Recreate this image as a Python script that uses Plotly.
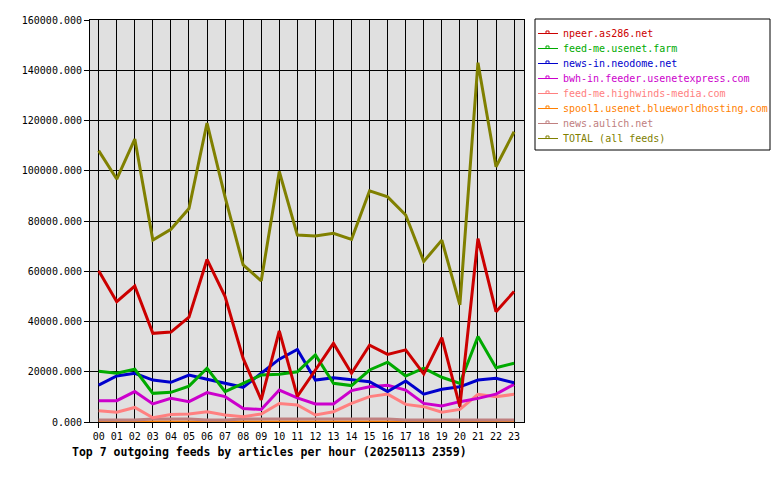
import plotly.graph_objects as go

hours = ["00","01","02","03","04","05","06","07","08","09","10","11",
         "12","13","14","15","16","17","18","19","20","21","22","23"]

npeer = [60200, 47900, 54100, 35300, 35800, 41700, 64700, 49900, 25300, 8800, 36300, 10200,
         20700, 31300, 19400, 30600, 26900, 28700, 19100, 33600, 6100, 73000, 43900, 51900]
feedme_farm = [20200, 19400, 21000, 11400, 11800, 14300, 21400, 12100, 15400, 18700, 19000, 20000,
               26700, 15400, 14500, 20700, 23800, 18300, 21400, 17800, 15400, 34000, 21600, 23400]
neodome = [14700, 18300, 19400, 16700, 15800, 18700, 17000, 15400, 13800, 19400, 25000, 28900,
           16700, 17600, 16700, 16000, 12100, 16300, 11100, 13000, 14000, 16700, 17400, 15600]
bwh = [8500, 8500, 12100, 7200, 9400, 8100, 11700, 10100, 5400, 5000, 12700, 9600,
       7200, 7200, 12500, 14000, 14600, 12700, 7400, 6400, 8100, 9400, 11100, 15000]
highwinds = [4500, 3900, 5800, 1700, 3000, 3200, 4100, 2800, 2100, 3200, 7400, 6800,
             2800, 4100, 7400, 10100, 11100, 7000, 6100, 3900, 5000, 11000, 10100, 11000]
spool1 = [0, 0, 0, 0, 0, 0, 0, 0, 0, 0, 0, 0,
          0, 0, 0, 0, 0, 0, 0, 0, 0, 0, 0, 0]
aulich = [800, 800, 800, 1200, 1200, 1200, 800, 800, 1200, 1200, 1200, 1200,
          1200, 1200, 1200, 1200, 1200, 800, 800, 800, 800, 800, 800, 800]
total = [108000, 96700, 112600, 72400, 76700, 85000, 119000, 89500, 62500, 56200, 99700, 74400,
         74000, 75100, 72700, 92000, 89600, 82400, 63900, 72400, 46600, 143000, 101600, 115500]

names = ["npeer.as286.net", "feed-me.usenet.farm", "news-in.neodome.net",
         "bwh-in.feeder.usenetexpress.com", "feed-me.highwinds-media.com",
         "spool1.usenet.blueworldhosting.com", "news.aulich.net", "TOTAL (all feeds)"]
series = [npeer, feedme_farm, neodome, bwh, highwinds, spool1, aulich, total]
colors = ["#cc0000", "#00aa00", "#0000cc", "#cc00cc", "#ff8080", "#ff8000", "#c08080", "#808000"]

x = list(range(len(hours)))

# plot-area geometry in pixels (used only to place the hand-drawn legend box)
PL, PR, PT, PB = 90, 524, 20, 422
def px(v):
    return (v - PL) / (PR - PL)
def py(v):
    return (PB - v) / (PB - PT)

fig = go.Figure()
order = [5, 6, 4, 3, 2, 1, 0, 7]
for i in order:
    fig.add_trace(go.Scatter(x=x, y=series[i], mode="lines",
                             line=dict(color=colors[i], width=3),
                             showlegend=False, hoverinfo="skip"))

mono = "DejaVu Sans Mono"
shapes = [dict(type="rect", xref="paper", yref="paper",
               x0=px(535), x1=px(770), y0=py(150), y1=py(19),
               line=dict(color="black", width=1), fillcolor="white", layer="above")]
annotations = []
for i, n in enumerate(names):
    yc = 33.5 + 15 * i
    shapes.append(dict(type="line", xref="paper", yref="paper",
                       x0=px(538), x1=px(558), y0=py(yc), y1=py(yc),
                       line=dict(color=colors[i], width=1)))
    shapes.append(dict(type="rect", xref="paper", yref="paper",
                       x0=px(546), x1=px(549), y0=py(yc), y1=py(yc - 2.5),
                       line=dict(color=colors[i], width=1)))
    annotations.append(dict(xref="paper", yref="paper", x=px(561), y=py(yc),
                            xanchor="left", yanchor="middle", showarrow=False,
                            text=n, font=dict(family=mono, size=10, color=colors[i])))

fig.update_layout(
    width=780, height=480,
    margin=dict(l=PL, r=780 - PR, t=PT, b=480 - PB),
    paper_bgcolor="white", plot_bgcolor="#e0e0e0",
    font=dict(family=mono, size=10, color="black"),
    showlegend=False,
    title=dict(text="<b>Top 7 outgoing feeds by articles per hour (20250113 2359)</b>",
               x=72/780, xanchor="left", y=1-452/480, yanchor="middle",
               font=dict(family=mono, size=11.5, color="black")),
    shapes=shapes, annotations=annotations,
    xaxis=dict(range=[-0.48, 23.55], tickmode="array", tickvals=x, ticktext=hours,
               showgrid=True, gridcolor="black", gridwidth=1,
               showline=True, linecolor="black", linewidth=1, mirror=True,
               ticks="outside", ticklen=5, tickcolor="black", zeroline=False),
    yaxis=dict(range=[0, 160000], tickmode="linear", tick0=0, dtick=20000,
               tickformat=".3f",
               showgrid=True, gridcolor="black", gridwidth=1,
               showline=True, linecolor="black", linewidth=1, mirror=True,
               ticks="outside", ticklen=5, tickcolor="black", zeroline=False),
)

fig.write_html("out.html")
